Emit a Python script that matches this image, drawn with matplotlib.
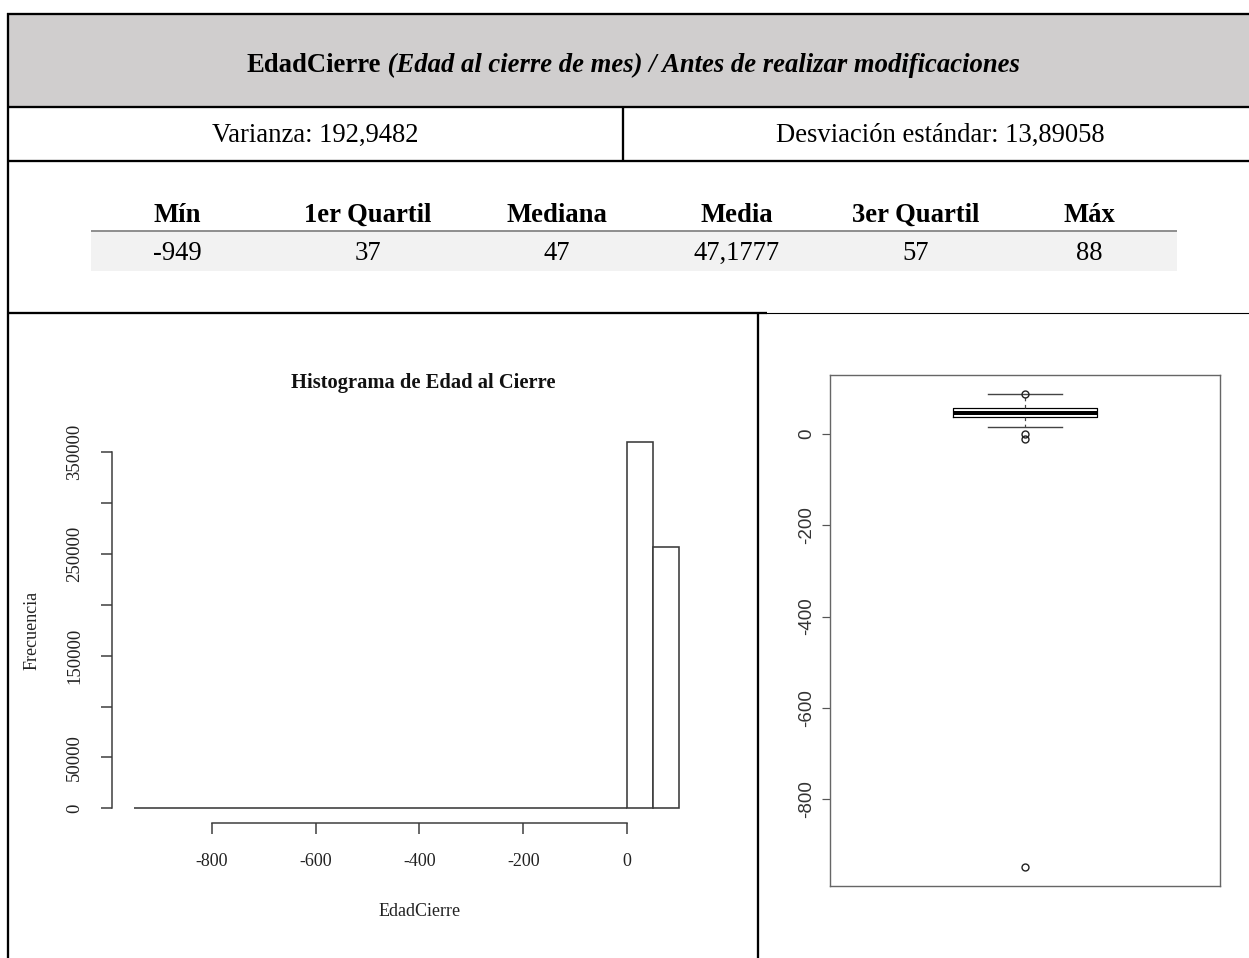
import numpy as np
import matplotlib.pyplot as plt
from matplotlib.patches import Rectangle

W, H = 1249, 958

# table text
titulo_var = "EdadCierre"
titulo_desc = " (Edad al cierre de mes) / Antes de realizar modificaciones"
varianza = "Varianza: 192,9482"
desviacion = "Desviación estándar: 13,89058"
resumen_cols = ["Mín", "1er Quartil", "Mediana", "Media", "3er Quartil", "Máx"]
resumen_vals = ["-949", "37", "47", "47,1777", "57", "88"]

# histogram of EdadCierre, bins of width 50 from -950 to 100
bin_edges = np.arange(-950, 101, 50)
frecuencias = [1, 0, 0, 0, 0, 0, 0, 0, 0, 0,
               0, 0, 0, 0, 0, 0, 0, 0, 14, 360200, 256600]
hist_yticks = [0, 50000, 100000, 150000, 200000, 250000, 300000, 350000]
hist_ylabels = ["0", "50000", "", "150000", "", "250000", "", "350000"]
hist_xticks = [-800, -600, -400, -200, 0]

# boxplot summary
caja = dict(med=47, q1=37, q3=57, whislo=16, whishi=87,
            fliers=[88, 0, -10, -949])
box_yticks = [0, -200, -400, -600, -800]

SERIF = "Liberation Serif"
SANS = "Liberation Sans"
px = 0.72  # points per pixel at dpi 100
FS = 19.2

fig = plt.figure(figsize=(W / 100, H / 100), dpi=100)
bg = fig.add_axes([0, 0, 1, 1])
bg.set_xlim(0, W)
bg.set_ylim(H, 0)
bg.axis("off")

# header band and rules
bg.add_patch(Rectangle((8, 13), W - 8, 94, facecolor="#d0cece", edgecolor="none"))
bg.add_patch(Rectangle((91, 231), 1177 - 91, 40, facecolor="#f2f2f2", edgecolor="none"))
thick = 2.3 * px
for x0, x1, y in [(7, W, 13.5), (7, W, 107), (7, W, 161), (7, 767, 313)]:
    bg.plot([x0, x1], [y, y], color="black", lw=thick, solid_capstyle="butt")
bg.plot([767, W], [313, 313], color="black", lw=1.1 * px)
bg.plot([8, 8], [13, H], color="black", lw=thick, solid_capstyle="butt")
bg.plot([623.5, 623.5], [107, 161], color="black", lw=thick, solid_capstyle="butt")
bg.plot([758, 758], [313, H], color="black", lw=thick, solid_capstyle="butt")
bg.plot([91, 1177], [231, 231], color="#7f7f7f", lw=1.7 * px, solid_capstyle="butt")

# header title: bold name + bold italic description, centred as one line
t1 = bg.text(0, 72, titulo_var, fontsize=FS, fontweight="bold", family=SERIF,
             ha="left", va="baseline")
t2 = bg.text(0, 72, titulo_desc, fontsize=FS, fontweight="bold", style="italic",
             family=SERIF, ha="left", va="baseline")
fig.canvas.draw()
r = fig.canvas.get_renderer()
w1 = t1.get_window_extent(r).width
w2 = t2.get_window_extent(r).width
x_start = 633 - (w1 + w2) / 2
t1.set_x(x_start)
t2.set_x(x_start + w1)

bg.text(315, 141.5, varianza, fontsize=FS, family=SERIF, ha="center", va="baseline")
bg.text(940, 141.5, desviacion, fontsize=FS, family=SERIF, ha="center", va="baseline")

col_x = [177, 368, 557, 737, 916, 1089]
for x, c, v in zip(col_x, resumen_cols, resumen_vals):
    bg.text(x, 221.5, c, fontsize=FS, fontweight="bold", family=SERIF,
            ha="center", va="baseline")
    bg.text(x, 260, v, fontsize=FS, family=SERIF, ha="center", va="baseline")

# histogram panel
ax = fig.add_axes([112 / W, (H - 823) / H, 589 / W, 396 / H])
ax.set_facecolor("none")
ax.bar(bin_edges[:-1], frecuencias, width=50, align="edge",
       facecolor="white", edgecolor="#3a3a3a", linewidth=1.6 * px)
ax.set_xlim(-992, 142)
ax.set_ylim(-14408, 374608)
for s in ["top", "right"]:
    ax.spines[s].set_visible(False)
ax.spines["left"].set_bounds(0, 350000)
ax.spines["bottom"].set_bounds(-800, 0)
for s in ["left", "bottom"]:
    ax.spines[s].set_color("#3a3a3a")
    ax.spines[s].set_linewidth(1.5 * px)
ax.set_yticks(hist_yticks)
ax.set_yticklabels(hist_ylabels, rotation=90, va="center", family=SERIF,
                   fontsize=13.5, color="#222222")
ax.set_xticks(hist_xticks)
ax.set_xticklabels([str(v) for v in hist_xticks], family=SERIF, fontsize=13,
                   color="#222222")
ax.tick_params(axis="both", direction="out", length=11 * px, width=1.5 * px,
               color="#3a3a3a")
ax.tick_params(axis="y", pad=13)
ax.tick_params(axis="x", pad=14)

bg.text(423, 383, "Histograma de Edad al Cierre", fontsize=14.8, fontweight="bold",
        family=SERIF, ha="center", va="center", color="#111111")
bg.text(420, 912, "EdadCierre", fontsize=13, family=SERIF, ha="center",
        va="center", color="#222222")
bg.text(32, 630, "Frecuencia", fontsize=13, family=SERIF, ha="center",
        va="center", rotation=90, color="#222222")

# boxplot panel
bx = fig.add_axes([830 / W, (H - 886) / H, 390 / W, 511 / H])
bx.set_facecolor("none")
stats = [dict(caja, label="")]
bx.bxp(stats, positions=[1], widths=0.37, capwidths=0.19,
       boxprops=dict(color="black", lw=1.2 * px),
       medianprops=dict(color="black", lw=4 * px, solid_capstyle="butt"),
       whiskerprops=dict(color="#444444", lw=1.2 * px, linestyle=(0, (3, 3))),
       capprops=dict(color="#444444", lw=1.4 * px),
       flierprops=dict(marker="o", markerfacecolor="none", markeredgecolor="#222222",
                       markersize=5, markeredgewidth=1.0))
bx.set_xlim(0.5, 1.5)
bx.set_ylim(-990.5, 129.5)
bx.set_xticks([])
bx.set_yticks(box_yticks)
bx.set_yticklabels([str(v) for v in box_yticks], rotation=90, va="center",
                   family=SANS, fontsize=13.5, color="#333333")
bx.tick_params(axis="y", direction="out", length=8 * px, width=1.2 * px,
               color="#555555", pad=5)
for s in bx.spines.values():
    s.set_color("#666666")
    s.set_linewidth(1.4 * px)

fig.savefig("out.png", dpi=100)
